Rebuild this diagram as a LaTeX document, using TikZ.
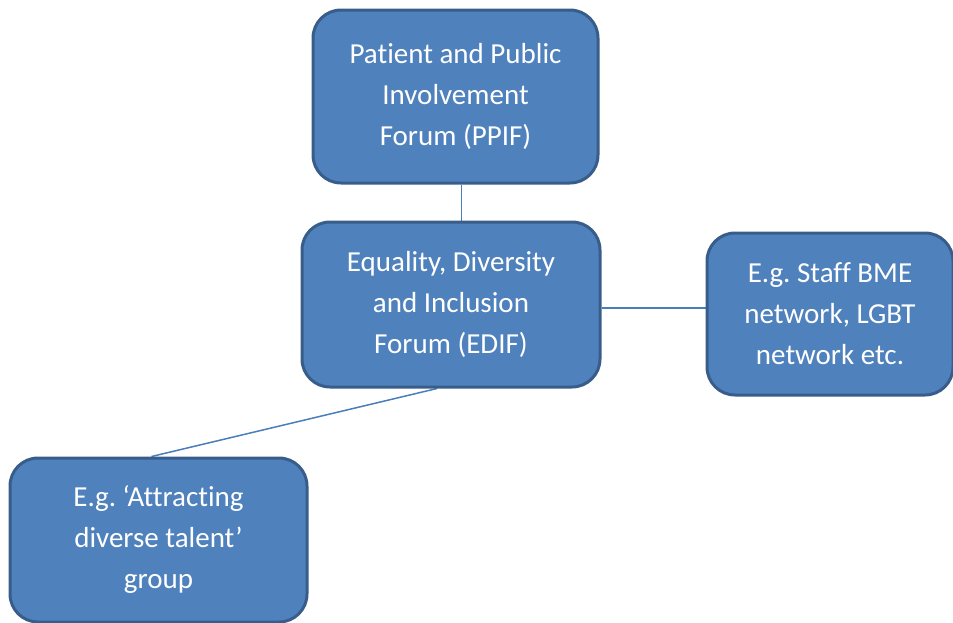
\documentclass[tikz,border=0pt]{standalone}
\usepackage{fontspec}
\setmainfont{Carlito}[RawFeature={-liga;-clig;-dlig}]
\usetikzlibrary{backgrounds}
\definecolor{boxfill}{HTML}{4F81BD}
\definecolor{boxline}{HTML}{385D8A}
\definecolor{connline}{HTML}{4A7EBB}
\tikzset{
  orgbox/.style={draw=boxline, fill=boxfill, line width=3pt, rounded corners=28pt,
    text=white, align=center, inner sep=0pt,
    font=\fontsize{29}{41}\selectfont\frenchspacing},
  conn/.style={draw=connline, line width=1.5pt}
}
\begin{document}
\begin{tikzpicture}[x=1pt,y=1pt]
\useasboundingbox (0,0) rectangle (953,-622);
\node[orgbox, minimum width=285, minimum height=173] (ppif) at (455.5,-96.5)
  {Patient and Public\\Involvement\\Forum (PPIF)};
\node[orgbox, minimum width=298, minimum height=165] (edif) at (451,-304.5)
  {Equality, Diversity\\and Inclusion\\Forum (EDIF)};
\node[orgbox, minimum width=246, minimum height=162] (staff) at (830,-314)
  {E.g. Staff BME\\network, LGBT\\network etc.};
\node[orgbox, minimum width=297, minimum height=164] (adt) at (158.5,-540)
  {E.g. ‘Attracting\\diverse talent’\\group};
\begin{pgfonlayer}{background}
\draw[conn] ([xshift=6pt]ppif.south) -- ([xshift=6pt]ppif.south |- edif.north);
\draw[conn] ([yshift=-3.5pt]edif.east) -- ([yshift=-3.5pt]edif.east -| staff.west);
\draw[conn] ([xshift=-14pt]edif.south) -- ([xshift=-7pt]adt.north);
\end{pgfonlayer}
\end{tikzpicture}
\end{document}
